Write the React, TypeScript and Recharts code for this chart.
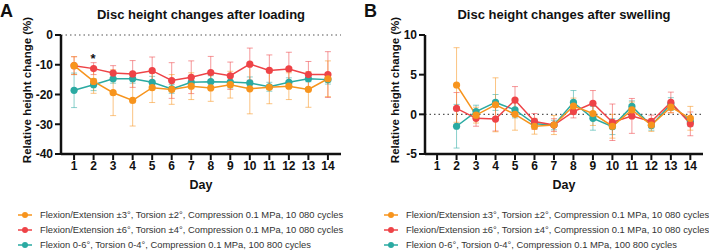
import { LineChart, Line, XAxis, YAxis, ErrorBar, ReferenceLine } from 'recharts';

const days = [1, 2, 3, 4, 5, 6, 7, 8, 9, 10, 11, 12, 13, 14];

// panel A: after loading (mean, SD)
const loadOrange = [-10.3, -15.6, -19.4, -22, -17.7, -18.3, -17.2, -17.8, -16.7, -18.1, -17.6, -17.2, -18.3, -14.7];
const loadOrangeSd = [3, 4, 7.7, 8.6, 5, 5, 4.5, 4.5, 4.5, 8.4, 5.5, 4.5, 6, 6];
const loadRed = [-10.3, -11.3, -12.8, -13.1, -12, -15.3, -14.2, -12.6, -13.7, -9.8, -11.9, -11.4, -13.3, -13.3];
const loadRedSd = [3, 2, 2.5, 4.5, 4.6, 6, 5.5, 5.4, 4.6, 5.4, 5.2, 5.6, 4.4, 7.7];
const loadTeal = [-18.6, -16.7, -14.7, -14.7, -15.9, -18.1, -15.9, -15.7, -15.8, -16.1, -17.4, -15.9, -14.7, -15];
const loadTealSd = [5.8, 2, 1.5, 1.5, 2, 1.5, 2, 2, 2, 2, 1.5, 1.5, 1, 1.5];

// panel B: after swelling (no value on day 1)
const swellOrange = [null, 3.7, -0.1, 1.2, 0, -1.5, -1.35, 1.05, 0.1, -1.5, 0.55, -1.35, 0.9, -0.5];
const swellOrangeSd = [null, 4.7, 1, 3.4, 2, 1, 1.2, 1, 1.5, 1.5, 1, 0.8, 0.7, 1.5];
const swellRed = [null, 0.75, -0.5, -0.6, 1.8, -0.9, -1.35, 0.35, 1.4, -1.0, -0.2, -0.9, 1.5, -1.2];
const swellRedSd = [null, 2, 1, 1.5, 1.7, 1, 0.8, 0.8, 1.6, 2.3, 2.2, 0.8, 1.3, 1.5];
const swellTeal = [null, -1.5, 0.35, 1.5, 0.55, -1.2, -1.35, 1.5, -0.5, -1.55, 1.0, -1.4, 1.3, -0.9];
const swellTealSd = [null, 2.75, 0.8, 1, 1, 0.6, 0.6, 1.5, 1.5, 1, 0.7, 0.6, 0.8, 0.6];

const legendLabels = [
  'Flexion/Extension ±3°, Torsion ±2°, Compression 0.1 MPa, 10 080 cycles',
  'Flexion/Extension ±6°, Torsion ±4°, Compression 0.1 MPa, 10 080 cycles',
  'Flexion 0-6°, Torsion 0-4°, Compression 0.1 MPa, 100 800 cycles',
];

const ORANGE = '#f7941d';
const RED = '#ee4347';
const TEAL = '#2aaaa2';
const colors = [ORANGE, RED, TEAL];
const font = '"Liberation Sans", Arial, sans-serif';

const loadData = days.map((d, i) => ({
  day: d,
  orange: loadOrange[i], orangeSd: loadOrangeSd[i],
  red: loadRed[i], redSd: loadRedSd[i],
  teal: loadTeal[i], tealSd: loadTealSd[i],
}));

const swellData = days.map((d, i) => ({
  day: d,
  orange: swellOrange[i], orangeSd: swellOrangeSd[i],
  red: swellRed[i], redSd: swellRedSd[i],
  teal: swellTeal[i], tealSd: swellTealSd[i],
}));

const tickStyle = { fontFamily: font, fontWeight: 700, fontSize: 12, fill: '#111' };

function series(key: string, color: string) {
  return (
    <Line key={key} type="linear" dataKey={key} stroke={color} strokeWidth={1.5}
      dot={{ r: 3.6, fill: color, stroke: color, strokeWidth: 0 }} isAnimationActive={false}>
      <ErrorBar dataKey={key + 'Sd'} direction="y" width={3} stroke={color} strokeWidth={1} strokeOpacity={0.55} isAnimationActive={false} />
    </Line>
  );
}

function Panel(props: { data: any[]; domain: [number, number]; ticks: number[]; xDomain: [number, number]; width: number; left: number; right: number }) {
  return (
    <LineChart width={props.width} height={196} data={props.data}
      margin={{ top: 35, right: props.right, bottom: 0, left: props.left }}>
      <XAxis dataKey="day" type="number" domain={props.xDomain} ticks={days} interval={0}
        axisLine={{ stroke: '#111', strokeWidth: 2.5 }} tickLine={{ stroke: '#111', strokeWidth: 2 }}
        tickSize={6} tickMargin={1} tick={tickStyle} height={42} allowDataOverflow />
      <YAxis type="number" domain={props.domain} ticks={props.ticks} width={40}
        axisLine={{ stroke: '#111', strokeWidth: 2.5 }} tickLine={{ stroke: '#111', strokeWidth: 2 }}
        tickSize={6} tickMargin={2} tick={tickStyle} allowDataOverflow />
      <ReferenceLine y={0} stroke="#555" strokeDasharray="1.5 3" strokeWidth={1.2} />
      {series('teal', TEAL)}
      {series('red', RED)}
      {series('orange', ORANGE)}
    </LineChart>
  );
}

function Legend(props: { left: number }) {
  return (
    <div style={{ position: 'absolute', left: props.left, top: 207, fontFamily: font, fontSize: 9.4, color: '#333' }}>
      {legendLabels.map((t, i) => (
        <div key={t} style={{ display: 'flex', alignItems: 'center', height: 15.2, whiteSpace: 'nowrap' }}>
          <svg width={15} height={10} style={{ marginRight: 7 }}>
            <line x1={0} y1={5} x2={14} y2={5} stroke={colors[i]} strokeWidth={1.5} />
            <circle cx={7} cy={5} r={3} fill={colors[i]} />
          </svg>
          {t}
        </div>
      ))}
    </div>
  );
}

function Text(props: { x: number; y: number; size: number; bold?: boolean; center?: boolean; rotate?: boolean; children: any }) {
  return (
    <div style={{
      position: 'absolute', left: props.x, top: props.y, fontFamily: font, fontSize: props.size,
      fontWeight: props.bold ? 700 : 400, color: '#111', whiteSpace: 'nowrap', lineHeight: 1,
      transform: (props.center ? 'translate(-50%, -50%)' : '') + (props.rotate ? ' rotate(-90deg)' : ''),
    }}>{props.children}</div>
  );
}

export default function App() {
  return (
    <div style={{ position: 'absolute', left: 0, top: 0, width: 709, height: 252, background: '#fff', overflow: 'hidden' }}>
      <div style={{ position: 'absolute', left: 0, top: 0 }}>
        <Panel data={loadData} domain={[-40, 0]} ticks={[-40, -30, -20, -10, 0]} xDomain={[0.33, 14.67]} width={350} left={21} right={9} />
      </div>
      <div style={{ position: 'absolute', left: 350, top: 0 }}>
        <Panel data={swellData} domain={[-5, 10]} ticks={[-5, 0, 5, 10]} xDomain={[0.38, 14.65]} width={359} left={35} right={6} />
      </div>
      <Text x={0} y={2} size={18} bold>A</Text>
      <Text x={364} y={2} size={18} bold>B</Text>
      <Text x={201} y={14} size={13} bold center>Disc height changes after loading</Text>
      <Text x={564} y={14} size={13} bold center>Disc height changes after swelling</Text>
      <Text x={28} y={90} size={11.5} bold center rotate>Relative height change (%)</Text>
      <Text x={396} y={90} size={11.5} bold center rotate>Relative height change (%)</Text>
      <Text x={201} y={185} size={12.5} bold center>Day</Text>
      <Text x={564} y={185} size={12.5} bold center>Day</Text>
      <Text x={93} y={58} size={13} bold center>*</Text>
      <Legend left={18} />
      <Legend left={384} />
    </div>
  );
}
